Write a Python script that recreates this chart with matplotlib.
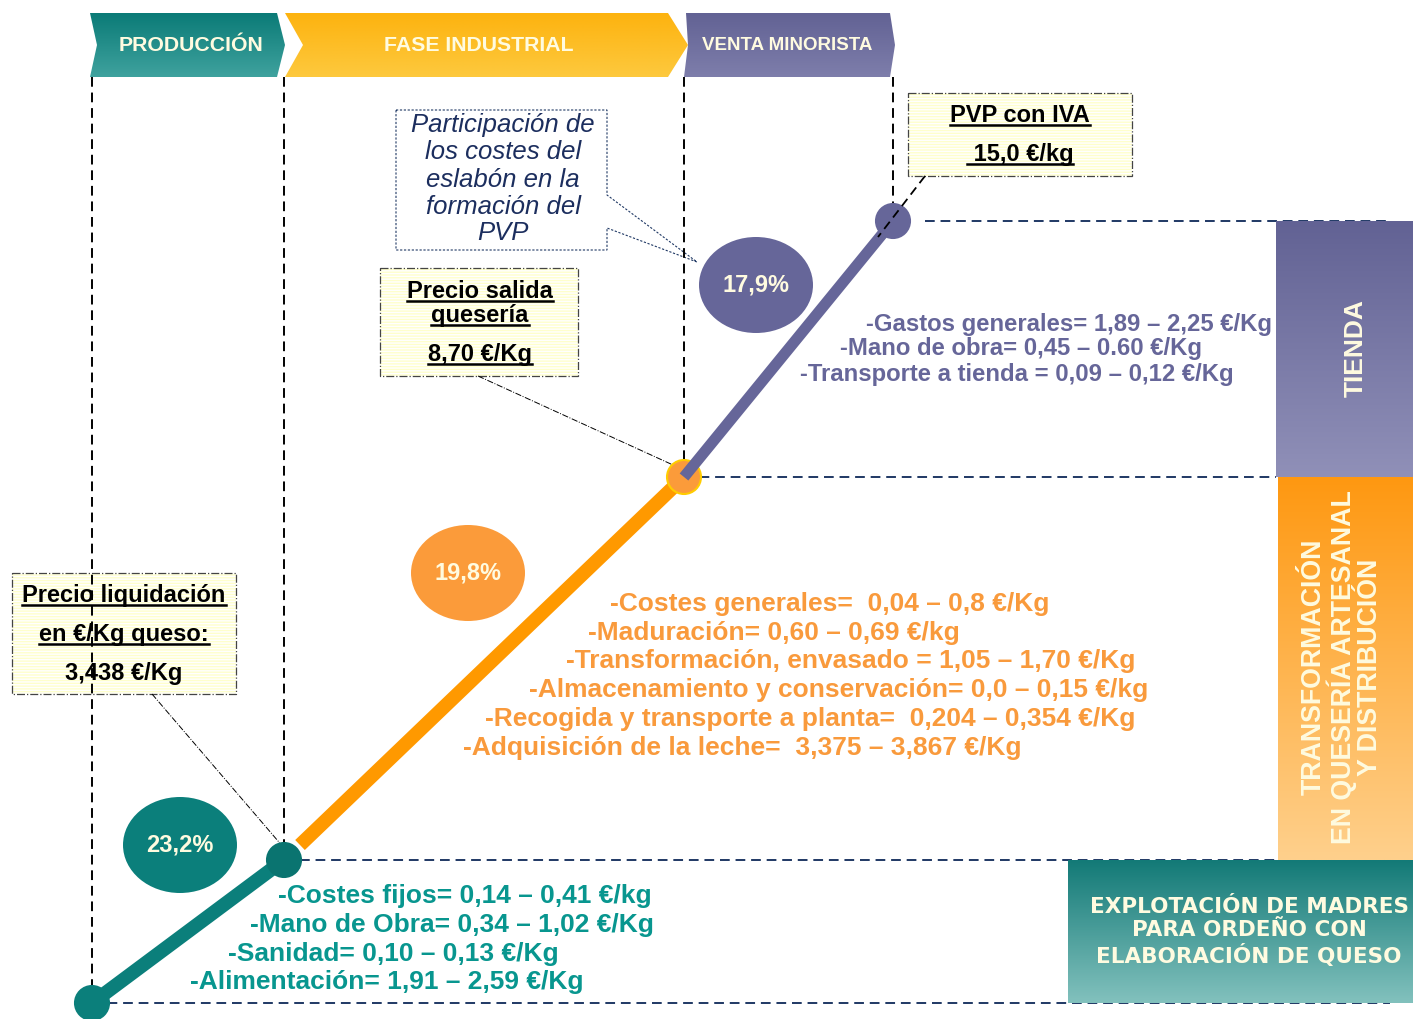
import numpy as np
import matplotlib
matplotlib.use('agg')
import matplotlib.pyplot as plt
from matplotlib.patches import Polygon, Ellipse, Rectangle
from matplotlib.colors import LinearSegmentedColormap

W, H = 1413, 1019
SANS = ['Liberation Sans', 'DejaVu Sans']
NARROW = ['Liberation Sans Narrow', 'Liberation Sans', 'DejaVu Sans']

# datos
stages = ['PRODUCCIÓN', 'FASE INDUSTRIAL', 'VENTA MINORISTA']
shares = [23.2, 19.8, 17.9]
price_titles = [['Precio liquidación', 'en €/Kg queso:'], ['Precio salida', 'quesería'], ['PVP con IVA']]
prices = ['3,438 €/Kg', '8,70 €/Kg', ' 15,0 €/kg']
costs_prod = ['-Costes fijos= 0,14 – 0,41 €/kg',
              '-Mano de Obra= 0,34 – 1,02 €/Kg',
              '-Sanidad= 0,10 – 0,13 €/Kg',
              '-Alimentación= 1,91 – 2,59 €/Kg']
costs_ind = ['-Costes generales=  0,04 – 0,8 €/Kg',
             '-Maduración= 0,60 – 0,69 €/kg',
             '-Transformación, envasado = 1,05 – 1,70 €/Kg',
             '-Almacenamiento y conservación= 0,0 – 0,15 €/kg',
             '-Recogida y transporte a planta=  0,204 – 0,354 €/Kg',
             '-Adquisición de la leche=  3,375 – 3,867 €/Kg']
costs_venta = ['-Gastos generales= 1,89 – 2,25 €/Kg',
               '-Mano de obra= 0,45 – 0.60 €/Kg',
               '-Transporte a tienda = 0,09 – 0,12 €/Kg']
side_labels = ['EXPLOTACIÓN DE MADRES\nPARA ORDEÑO CON\nELABORACIÓN DE QUESO',
               'TRANSFORMACIÓN\nEN QUESERÍA ARTESANAL\nY DISTRIBUCIÓN',
               'TIENDA']
callout = ['Participación de', 'los costes del', 'eslabón en la', 'formación del', 'PVP']

# layout (pixel coords, y down)
node_x = [92, 284, 684, 893]
node_y = [1003, 860, 477, 221]
teal, orange, purple = '#0b7f7b', '#ff9900', '#666699'
cream = '#fffbe0'
navy = '#1f3864'

fig = plt.figure(figsize=(W / 100, H / 100), dpi=100)
ax = fig.add_axes([0, 0, 1, 1])
ax.axis('off')


def grad_fill(x0, x1, y0, y1, top, bot, clip=None, z=1):
    cmap = LinearSegmentedColormap.from_list('g', [top, bot])
    im = ax.imshow(np.linspace(0, 1, 200).reshape(-1, 1), cmap=cmap, extent=(x0, x1, y1, y0),
                   aspect='auto', zorder=z, interpolation='bilinear')
    if clip is not None:
        p = Polygon(clip, closed=True, facecolor='none', edgecolor='none')
        ax.add_patch(p)
        im.set_clip_path(p)


# cabeceras
chevrons = [[(90, 13), (277, 13), (285, 45), (277, 77), (90, 77), (97, 45)],
            [(285, 13), (668, 13), (688, 45), (668, 77), (285, 77), (303, 45)],
            [(686, 13), (890, 13), (895, 45), (890, 77), (684, 77), (688, 45)]]
chev_cols = [('#0b7b77', '#3fa29e'), ('#fdb30f', '#fdc93e'), ('#626294', '#7e7eab')]
chev_txt_x = [191, 479, 787]
chev_fs = [15.3, 15.3, 13.5]
for poly, (c1, c2), tx, fs, s in zip(chevrons, chev_cols, chev_txt_x, chev_fs, stages):
    xs = [p[0] for p in poly]
    grad_fill(min(xs), max(xs), 13, 77, c1, c2, clip=poly, z=2)
    ax.text(tx, 45, s, color=cream, fontsize=fs, fontweight='bold', family=NARROW,
            ha='center', va='center', zorder=3)

# lineas verticales discontinuas
vtop = 77
for x, y in zip(node_x, node_y):
    ax.plot([x, x], [vtop, y], color='black', lw=1.4, ls=(0, (5, 3)), zorder=4)

# lineas horizontales discontinuas
hlines = [(221, 925, 1390), (477, 684, 1276), (860, 300, 1390), (1003, 92, 1390)]
for y, xa, xb in hlines:
    ax.plot([xa, xb], [y, y], color=navy, lw=1.4, ls=(0, (5, 3)), zorder=1)

# cajas laterales
grad_fill(1276, 1413, 221, 477, '#626294', '#9090b8', z=2)
grad_fill(1278, 1413, 477, 860, '#ff9811', '#fed08c', z=2)
grad_fill(1068, 1413, 860, 1003, '#137a77', '#82c1bd', z=2)
ax.text(1249, 932, side_labels[0], color=cream, fontsize=15.5, fontweight='bold', family=['DejaVu Sans'],
        ha='center', va='center', linespacing=1.22, zorder=3)
ax.text(1342, 667, side_labels[1], color=cream, fontsize=19.3, fontweight='bold', family=NARROW,
        ha='center', va='center', rotation=90, linespacing=0.98, multialignment='center', zorder=3)
ax.text(1356, 348, side_labels[2], color=cream, fontsize=19, fontweight='bold', family=NARROW,
        ha='center', va='center', rotation=90, zorder=3)

# tramos de la cadena
ax.plot([node_x[0], node_x[1]], [node_y[0], node_y[1]], color=teal, lw=10, solid_capstyle='butt', zorder=5)
ax.plot([300, node_x[2]], [845, node_y[2]], color=orange, lw=10, solid_capstyle='butt', zorder=5)
ax.plot([node_x[2], node_x[3]], [node_y[2], node_y[3]], color=purple, lw=8, solid_capstyle='butt', zorder=6)
for (x, y), fc, ec in zip(zip(node_x, node_y), [teal, '#0a7470', '#fb9b3a', purple],
                          [teal, '#0a7470', '#ffcc00', purple]):
    ax.add_patch(Ellipse((x, y), 34, 34, facecolor=fc, edgecolor=ec, lw=1.5, zorder=5.5))

# elipses de porcentaje
ell_pos = [(180, 845), (468, 573), (756, 285)]
ell_cols = [teal, '#fb9b3a', purple]
for (x, y), c, v in zip(ell_pos, ell_cols, shares):
    ax.add_patch(Ellipse((x, y), 114, 96, facecolor=c, edgecolor='none', zorder=5))
    ax.text(x, y, f'{v:.1f}%'.replace('.', ','), color=cream, fontsize=17, fontweight='bold',
            family=SANS, ha='center', va='center', zorder=6)

# cajas amarillas de precio
boxes = [(12, 573, 236, 694), (380, 268, 578, 376), (908, 93, 1132, 176)]
box_lines_y = [[602, 641, 680], [298, 322, 361], [122, 161]]
box_cx = [124, 480, 1020]
renderer = fig.canvas.get_renderer()
ax.set_xlim(0, W)
ax.set_ylim(H, 0)
for (x0, y0, x1, y1), ys, cx, titles, pr in zip(boxes, box_lines_y, box_cx, price_titles, prices):
    ax.add_patch(Rectangle((x0, y0), x1 - x0, y1 - y0, facecolor='#ffffcc', edgecolor='none', zorder=3))
    ax.add_patch(Rectangle((x0, y0), x1 - x0, y1 - y0, fill=False, hatch='------', edgecolor='white',
                           lw=0, zorder=3.1))
    ax.add_patch(Rectangle((x0, y0), x1 - x0, y1 - y0, fill=False, edgecolor='#444444', lw=0.9,
                           ls='-.', zorder=3.2))
    lines = titles + [pr]
    under = [True] * len(titles) + [pr != prices[0]]
    for s, y, u in zip(lines, ys, under):
        t = ax.text(cx, y, s, fontsize=17, fontweight='bold', family=SANS, color='black',
                    ha='center', va='baseline', zorder=4)
        if u:
            bb = t.get_window_extent(renderer)
            inv = ax.transData.inverted()
            xa = inv.transform((bb.x0, 0))[0]
            xb = inv.transform((bb.x1, 0))[0]
            ax.plot([xa, xb], [y + 3, y + 3], color='black', lw=1.8, zorder=4)

# lineas guia
ax.plot([152, 284], [694, 848], color='black', lw=0.7, ls='-.', zorder=4)
ax.plot([478, 684], [376, 470], color='black', lw=0.7, ls='-.', zorder=4)
ax.plot([925, 878], [176, 237], color='black', lw=1.3, ls=(0, (5, 3)), zorder=7)

# recuadro de llamada
call_poly = [(396, 110), (607, 110), (607, 195), (697, 262), (607, 228), (607, 250), (396, 250)]
ax.add_patch(Polygon(call_poly, closed=True, facecolor='white', edgecolor=navy, lw=0.8,
                     ls=(0, (2, 1.5)), zorder=3))
for s, y in zip(callout, [125, 152, 180, 207, 233]):
    ax.text(503, y, s, fontsize=18.5, style='italic', family=SANS, color='#1c2e5e',
            ha='center', va='center', zorder=4)

# costes
for s, x, y in zip(costs_prod, [278, 250, 228, 190], [896, 925, 954, 982]):
    ax.text(x, y, s, fontsize=19, fontweight='bold', family=SANS, color='#08968f',
            ha='left', va='center', zorder=6)
for s, x, y in zip(costs_ind, [610, 588, 566, 529, 485, 463], [604, 633, 661, 690, 719, 748]):
    ax.text(x, y, s, fontsize=19, fontweight='bold', family=NARROW, color='#f99a3c',
            ha='left', va='center', zorder=6)
for s, x, y in zip(costs_venta, [866, 840, 800], [324, 349, 375]):
    ax.text(x, y, s, fontsize=17.2, fontweight='bold', family=SANS, color=purple,
            ha='left', va='center', zorder=6)

ax.set_xlim(0, W)
ax.set_ylim(H, 0)
fig.savefig('out.png', dpi=100, facecolor='white')
